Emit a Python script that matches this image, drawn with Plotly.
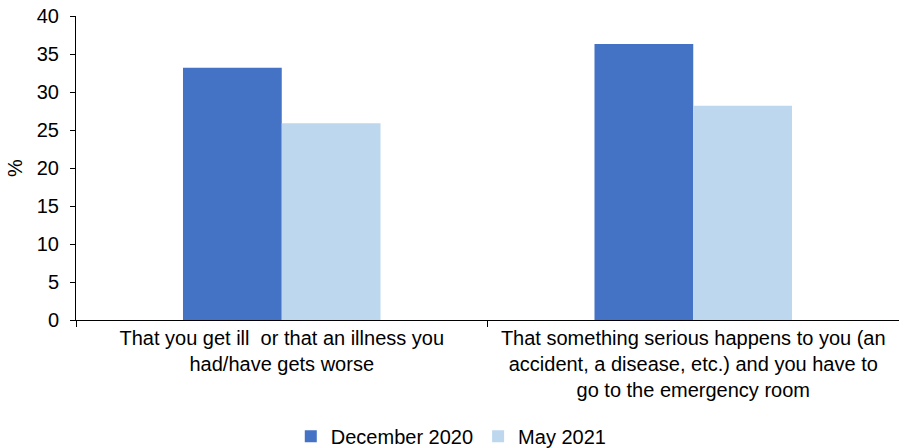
import plotly.graph_objects as go

categories = [
    "That you get ill  or that an illness you<br>had/have gets worse",
    "That something serious happens to you (an<br>accident, a disease, etc.) and you have to<br>go to the emergency room",
]
dec_2020 = [33.2, 36.3]
may_2021 = [25.9, 28.2]
y_ticks = [0, 5, 10, 15, 20, 25, 30, 35, 40]

font_family = "Liberation Sans, Arial, sans-serif"

fig = go.Figure()
fig.add_trace(go.Bar(x=categories, y=dec_2020, name="December 2020",
                     marker=dict(color="#4472C4", line=dict(width=0))))
fig.add_trace(go.Bar(x=categories, y=may_2021, name="May 2021",
                     marker=dict(color="#BDD7EE", line=dict(width=0))))

fig.update_layout(
    width=899, height=448,
    margin=dict(l=76, r=0, t=16, b=128, autoexpand=False),
    paper_bgcolor="white", plot_bgcolor="white",
    barmode="group", bargap=0.52, bargroupgap=0,
    font=dict(family=font_family, size=20, color="#000000"),
    showlegend=True,
    legend=dict(orientation="h", x=0.456, xanchor="center", y=-0.382, yanchor="middle",
                font=dict(size=20), itemwidth=30, traceorder="normal",
                tracegroupgap=0),
    xaxis=dict(showline=True, linecolor="#000000", linewidth=1,
               ticks="outside", ticklen=6, tickcolor="#000000",
               tickson="boundaries", showgrid=False, automargin=False,
               tickfont=dict(size=20)),
    yaxis=dict(range=[0, 40], tickvals=y_ticks, showline=True, linecolor="#000000",
               linewidth=1, ticks="outside", ticklen=5, tickcolor="#000000",
               showgrid=False, zeroline=False, automargin=False,
               ticklabelstandoff=7,
               title=dict(text="%", font=dict(size=20), standoff=8),
               tickfont=dict(size=20)),
)

fig.write_html("out.html")
